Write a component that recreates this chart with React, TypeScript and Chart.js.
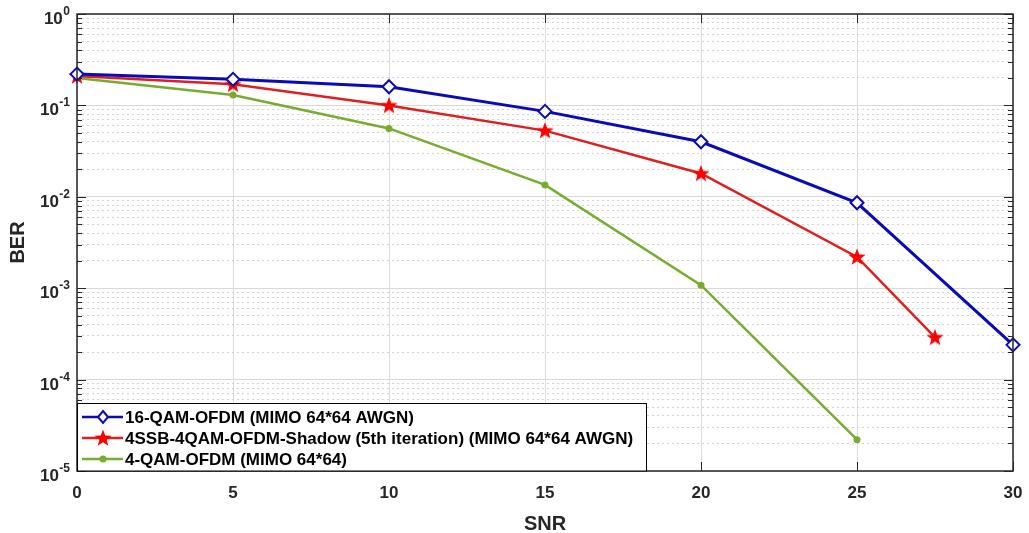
import React, { useEffect, useRef } from 'react';
import { Chart, registerables } from 'chart.js';

Chart.register(...registerables);

// ---- data ----
const snr16QAM = [0, 5, 10, 15, 20, 25, 30];
const ber16QAM = [0.22, 0.193, 0.16, 0.086, 0.04, 0.0086, 0.00024];
const snrShadow = [0, 5, 10, 15, 20, 25, 27.5];
const berShadow = [0.21, 0.17, 0.1, 0.053, 0.018, 0.0022, 0.00029];
const snr4QAM = [0, 5, 10, 15, 20, 25];
const ber4QAM = [0.2, 0.13, 0.056, 0.0135, 0.00108, 0.000022];

const seriesLabels = [
  '16-QAM-OFDM (MIMO 64*64 AWGN)',
  '4SSB-4QAM-OFDM-Shadow (5th iteration) (MIMO 64*64 AWGN)',
  '4-QAM-OFDM (MIMO 64*64)',
];
const xTickValues = [0, 5, 10, 15, 20, 25, 30];
const yDecades = [-5, -4, -3, -2, -1, 0];
const xTitle = 'SNR';
const yTitle = 'BER';

const BLUE = '#0a0ab8';
const RED = '#e01e1e';
const STAR = '#ff0000';
const GREEN = '#77ac30';
const AXIS = '#262626';
const FONT = '"Liberation Sans", Arial, sans-serif';

function makeStar(r: number, color: string): HTMLCanvasElement {
  const c = document.createElement('canvas');
  const s = Math.ceil(r * 2 + 2);
  c.width = s;
  c.height = s;
  const g = c.getContext('2d')!;
  g.fillStyle = color;
  g.beginPath();
  for (let i = 0; i < 10; i++) {
    const rad = i % 2 === 0 ? r : r * 0.42;
    const a = -Math.PI / 2 + (i * Math.PI) / 5;
    const px = s / 2 + rad * Math.cos(a);
    const py = s / 2 + 0.5 + rad * Math.sin(a);
    if (i === 0) g.moveTo(px, py);
    else g.lineTo(px, py);
  }
  g.closePath();
  g.fill();
  return c;
}

const isMajor = (v: number) => {
  const l = Math.log10(v);
  return Math.abs(l - Math.round(l)) < 1e-6;
};

export default function App() {
  const ref = useRef<HTMLCanvasElement | null>(null);

  useEffect(() => {
    document.body.style.margin = '0';
    const star = makeStar(9, STAR);

    const decor = {
      id: 'matlabDecor',
      afterDraw(chart: any) {
        const { ctx, chartArea: a } = chart;
        const xs = chart.scales.x;
        const ys = chart.scales.y;
        ctx.save();
        // ticks inside
        ctx.strokeStyle = AXIS;
        ctx.lineWidth = 1;
        ctx.beginPath();
        ys.ticks.forEach((t: any) => {
          const y = Math.round(ys.getPixelForValue(t.value)) + 0.5;
          const len = isMajor(t.value) ? 9 : 5;
          ctx.moveTo(a.left, y);
          ctx.lineTo(a.left + len, y);
          ctx.moveTo(a.right, y);
          ctx.lineTo(a.right - len, y);
        });
        xTickValues.forEach((v) => {
          const x = Math.round(xs.getPixelForValue(v)) + 0.5;
          ctx.moveTo(x, a.bottom);
          ctx.lineTo(x, a.bottom - 9);
          ctx.moveTo(x, a.top);
          ctx.lineTo(x, a.top + 9);
        });
        ctx.stroke();
        // frame
        ctx.lineWidth = 1.5;
        ctx.strokeRect(a.left, a.top, a.right - a.left, a.bottom - a.top);

        // y labels
        ctx.fillStyle = AXIS;
        ctx.textBaseline = 'alphabetic';
        yDecades.forEach((d) => {
          const y = ys.getPixelForValue(Math.pow(10, d));
          const sup = String(d);
          ctx.font = `bold 12px ${FONT}`;
          const sw = ctx.measureText(sup).width;
          const xs0 = 70 - sw;
          ctx.textAlign = 'left';
          ctx.fillText(sup, xs0, y + 1);
          ctx.font = `bold 17px ${FONT}`;
          ctx.textAlign = 'right';
          ctx.fillText('10', xs0 - 0.5, y + 10);
        });
        // x labels
        ctx.font = `bold 17px ${FONT}`;
        ctx.textAlign = 'center';
        ctx.textBaseline = 'middle';
        xTickValues.forEach((v) => {
          ctx.fillText(String(v), xs.getPixelForValue(v), 493);
        });
        // titles
        ctx.font = `bold 20px ${FONT}`;
        ctx.fillText(xTitle, (a.left + a.right) / 2, 524);
        ctx.save();
        ctx.translate(18, (a.top + a.bottom) / 2);
        ctx.rotate(-Math.PI / 2);
        ctx.fillText(yTitle, 0, 0);
        ctx.restore();

        // legend
        const bx = a.left + 0.5;
        const by = 403.5;
        const bw = 569;
        const bh = a.bottom - by;
        ctx.fillStyle = '#ffffff';
        ctx.fillRect(bx, by, bw, bh);
        ctx.strokeStyle = '#000000';
        ctx.lineWidth = 1;
        ctx.strokeRect(bx, by, bw, bh);
        const rows = [417, 438, 459];
        const cols = [BLUE, RED, GREEN];
        ctx.font = `bold 17px ${FONT}`;
        ctx.textAlign = 'left';
        ctx.textBaseline = 'middle';
        rows.forEach((ry, i) => {
          ctx.strokeStyle = cols[i];
          ctx.lineWidth = 2.5;
          ctx.beginPath();
          ctx.moveTo(82, ry);
          ctx.lineTo(123, ry);
          ctx.stroke();
          const mx = 103;
          if (i === 0) {
            ctx.beginPath();
            ctx.moveTo(mx, ry - 6);
            ctx.lineTo(mx + 5, ry);
            ctx.lineTo(mx, ry + 6);
            ctx.lineTo(mx - 5, ry);
            ctx.closePath();
            ctx.fillStyle = '#ffffff';
            ctx.fill();
            ctx.lineWidth = 2;
            ctx.stroke();
          } else if (i === 1) {
            ctx.drawImage(star, mx - star.width / 2, ry - star.height / 2);
          } else {
            ctx.beginPath();
            ctx.arc(mx, ry, 3.5, 0, Math.PI * 2);
            ctx.fillStyle = GREEN;
            ctx.fill();
          }
          ctx.fillStyle = '#000000';
          ctx.fillText(seriesLabels[i], 125, ry + 1);
        });
        ctx.restore();
      },
    };

    const toPts = (xs: number[], ys: number[]) => xs.map((x, i) => ({ x, y: ys[i] }));

    const chart = new Chart(ref.current!, {
      type: 'line',
      data: {
        datasets: [
          {
            label: seriesLabels[0],
            data: toPts(snr16QAM, ber16QAM),
            borderColor: BLUE,
            backgroundColor: '#ffffff',
            borderWidth: 3,
            pointStyle: 'rectRot',
            pointRadius: 6.5,
            pointBorderWidth: 2,
            pointBorderColor: BLUE,
            pointBackgroundColor: '#ffffff',
            clip: false as any,
          },
          {
            label: seriesLabels[1],
            data: toPts(snrShadow, berShadow),
            borderColor: RED,
            backgroundColor: STAR,
            borderWidth: 2.5,
            pointStyle: star as any,
            pointRadius: 9,
            clip: false as any,
          },
          {
            label: seriesLabels[2],
            data: toPts(snr4QAM, ber4QAM),
            borderColor: GREEN,
            backgroundColor: GREEN,
            borderWidth: 2.5,
            pointStyle: 'circle',
            pointRadius: 3.5,
            pointBorderWidth: 0,
            pointBackgroundColor: GREEN,
            clip: false as any,
          },
        ],
      },
      options: {
        animation: false,
        responsive: false,
        events: [],
        layout: { padding: { top: 14, right: 16, left: 0, bottom: 0 } },
        plugins: { legend: { display: false }, tooltip: { enabled: false } },
        scales: {
          x: {
            type: 'linear',
            min: 0,
            max: 30,
            ticks: { display: false, stepSize: 5 },
            afterBuildTicks: (s: any) => {
              s.ticks = xTickValues.map((v) => ({ value: v }));
            },
            afterFit: (s: any) => {
              s.height = 62;
            },
            grid: { color: '#dcdcdc', lineWidth: 1, drawTicks: false },
            border: { display: false },
          },
          y: {
            type: 'logarithmic',
            min: 1e-5,
            max: 1,
            ticks: { display: false },
            afterBuildTicks: (s: any) => {
              const t: any[] = [];
              for (let d = -5; d < 0; d++) {
                for (let m = 1; m <= 9; m++) t.push({ value: m * Math.pow(10, d) });
              }
              t.push({ value: 1 });
              s.ticks = t;
            },
            afterFit: (s: any) => {
              s.width = 77;
            },
            grid: {
              drawTicks: false,
              color: (c: any) => (c.tick && isMajor(c.tick.value) ? '#d9d9d9' : '#d4d4d4'),
              lineWidth: 1,
            },
            border: {
              display: false,
              dash: (c: any) => (c.tick && isMajor(c.tick.value) ? [] : [2, 3]),
            } as any,
          },
        },
      },
      plugins: [decor],
    });
    return () => chart.destroy();
  }, []);

  return (
    <div style={{ width: 1029, height: 533, background: '#fff' }}>
      <canvas ref={ref} width={1029} height={533} />
    </div>
  );
}
